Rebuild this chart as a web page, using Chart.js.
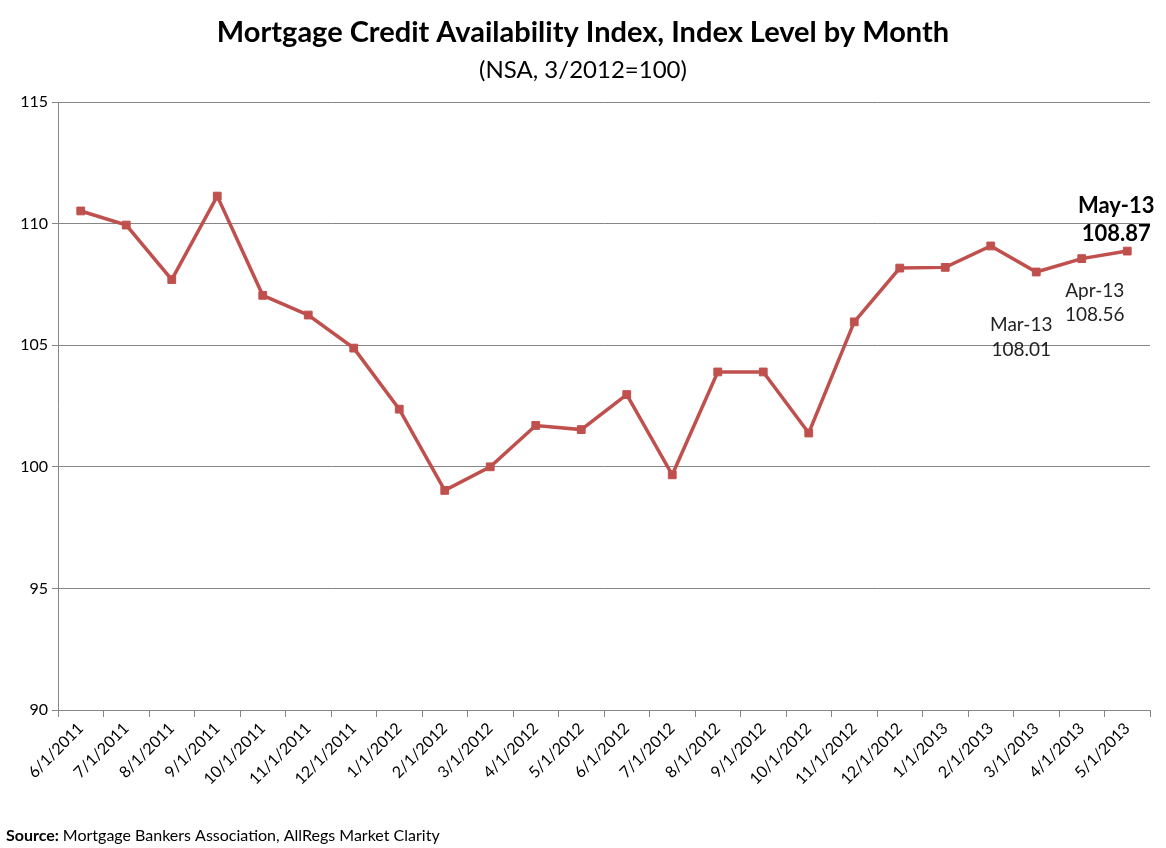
<!DOCTYPE html>
<html><head><meta charset="utf-8">
<script src="https://cdn.jsdelivr.net/npm/chart.js@4.4.0/dist/chart.umd.min.js"></script>
<style>html,body{margin:0;padding:0;background:#fff}#wrap{width:1166px;height:848px}</style>
</head><body><div id="wrap"><canvas id="c" width="1166" height="848"></canvas></div>
<script>
const categories = ["6/1/2011","7/1/2011","8/1/2011","9/1/2011","10/1/2011","11/1/2011","12/1/2011","1/1/2012","2/1/2012","3/1/2012","4/1/2012","5/1/2012","6/1/2012","7/1/2012","8/1/2012","9/1/2012","10/1/2012","11/1/2012","12/1/2012","1/1/2013","2/1/2013","3/1/2013","4/1/2013","5/1/2013"];
const indexValues = [110.52,109.94,107.7,111.13,107.05,106.24,104.88,102.37,99.03,100,101.7,101.53,102.97,99.67,103.9,103.9,101.39,105.96,108.17,108.2,109.08,108.01,108.56,108.87];
const yTicks = [90,95,100,105,110,115];
const annotations = [
  {index:21, lines:["Mar-13","108.01"], dx:-15, dy:[53,78], bold:false},
  {index:22, lines:["Apr-13","108.56"], dx:13, dy:[32,56], bold:false},
  {index:23, lines:["May-13","108.87"], dx:-11, dy:[-45,-17], bold:true}
];
const FONT = "Lato, 'Open Sans', sans-serif";
const textPlugin = {
  id:'texts',
  afterDraw(chart){
    const ctx = chart.ctx;
    ctx.save();
    ctx.fillStyle = '#000';
    ctx.textAlign = 'center';
    ctx.textBaseline = 'middle';
    ctx.font = "bold 29px " + FONT;
    ctx.fillText("Mortgage Credit Availability Index, Index Level by Month", 583, 33);
    ctx.font = "24px " + FONT;
    ctx.fillText("(NSA, 3/2012=100)", 583, 70);
    ctx.textAlign = 'left';
    ctx.font = "bold 16px " + FONT;
    const s = "Source:";
    ctx.fillText(s, 6, 836);
    const w = ctx.measureText(s + " ").width;
    ctx.font = "16px " + FONT;
    ctx.fillText("Mortgage Bankers Association, AllRegs Market Clarity", 6 + w, 836);
    const xs = chart.scales.x, ys = chart.scales.y;
    ctx.textAlign = 'center';
    annotations.forEach(a=>{
      const px = xs.getPixelForValue(a.index) + a.dx;
      const py = ys.getPixelForValue(indexValues[a.index]);
      ctx.font = (a.bold ? "bold 22px " : "19px ") + FONT;
      ctx.fillStyle = a.bold ? '#000' : '#222';
      a.lines.forEach((t,i)=>ctx.fillText(t, px, py + a.dy[i]));
    });
    ctx.restore();
  }
};
new Chart(document.getElementById('c'), {
  type:'line',
  data:{labels:categories, datasets:[{
    data:indexValues, borderColor:'#C0504D', backgroundColor:'#C0504D',
    borderWidth:3.5, pointStyle:'rect', pointRadius:5.5, pointHoverRadius:5.5,
    pointBorderWidth:1, tension:0
  }]},
  options:{
    responsive:false, animation:false,
    layout:{padding:{top:102, left:0, right:16, bottom:0}},
    plugins:{legend:{display:false}, title:{display:false}, tooltip:{enabled:false}},
    scales:{
      x:{
        offset:true,
        grid:{offset:true, drawOnChartArea:false, drawTicks:true, tickLength:7, color:'#868686'},
        border:{color:'#868686', width:1},
        ticks:{maxRotation:45, minRotation:45, autoSkip:false, color:'#000', font:{family:FONT, size:16}, padding:2},
        afterFit(s){ s.height = 138; }
      },
      y:{
        min:90, max:115,
        afterBuildTicks(s){ s.ticks = yTicks.map(v=>({value:v})); },
        grid:{color:'#868686', tickLength:6},
        border:{color:'#868686', width:1},
        ticks:{color:'#000', font:{family:FONT, size:16}, padding:4},
        afterFit(s){ s.width = 58; }
      }
    }
  },
  plugins:[textPlugin]
});
</script></body></html>
